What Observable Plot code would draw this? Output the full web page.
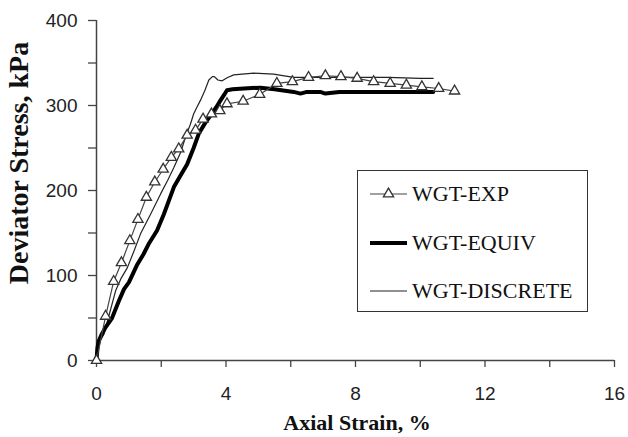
<!DOCTYPE html>
<html>
<head>
<meta charset="utf-8">
<script src="https://cdn.jsdelivr.net/npm/d3@7"></script>
<script src="https://cdn.jsdelivr.net/npm/@observablehq/plot@0.6"></script>
<style>
  html, body { margin: 0; padding: 0; background: #fff; }
  #wrap { position: relative; width: 628px; height: 437px; overflow: hidden; }
  #chart svg { display: block; }
  .ytitle { position: absolute; left: 19px; top: 163px; transform: translate(-50%, -50%) rotate(-90deg);
    font: bold 28px "Liberation Serif", "Times New Roman", serif; white-space: nowrap; color: #111; }
  .xtitle { position: absolute; left: 357px; top: 410px; transform: translateX(-50%);
    font: bold 22px "Liberation Serif", "Times New Roman", serif; white-space: nowrap; color: #111; }
  .legend { position: absolute; left: 357px; top: 170px; width: 229px; height: 140px;
    border: 1.5px solid #333; background: #fff; }
  .legend .row { position: absolute; left: 0; height: 30px; display: flex; align-items: center; }
  .legend .row span { font: 22px "Liberation Serif", "Times New Roman", serif; color: #111; margin-left: 5px; white-space: nowrap; }
</style>
</head>
<body>
<div id="wrap">
  <div id="chart"></div>
  <div class="ytitle">Deviator Stress, kPa</div>
  <div class="xtitle">Axial Strain, %</div>
  <div class="legend" id="legend"></div>
</div>
<script>
// ---- Data ----
const seriesNames = ["WGT-EXP", "WGT-EQUIV", "WGT-DISCRETE"];

const expStrain = [0, 0.28, 0.53, 0.77, 1.03, 1.28, 1.54, 1.80, 2.06, 2.31, 2.54, 2.80, 3.06, 3.29, 3.55, 3.81, 4.03, 4.53, 5.04, 5.57, 6.05, 6.55, 7.07, 7.55, 8.05, 8.56, 9.07, 9.57, 10.05, 10.57, 11.06];
const expStress = [0, 52, 93, 115, 141, 166, 192, 210, 225, 239, 249, 265, 271, 284, 290, 294, 302, 305, 313, 326, 328, 333, 335, 334, 332, 328, 326, 324, 322, 320, 317];

const equivStrain = [0, 0.03, 0.07, 0.15, 0.28, 0.48, 0.69, 0.85, 1.0, 1.26, 1.45, 1.61, 1.87, 2.08, 2.39, 2.6, 2.8, 3.0, 3.16, 3.35, 3.52, 3.7, 3.83, 3.95, 4.03, 4.2, 4.55, 5.06, 5.5, 6.09, 6.3, 6.5, 6.91, 7.07, 7.5, 8, 9, 10, 10.4];
const equivStress = [0, 15, 23, 30, 39, 50, 70, 84, 92, 113, 125, 137, 153, 172, 204, 218, 231, 250, 267, 279, 288, 298, 306, 313, 318, 319, 320, 321, 319, 316, 314, 316, 316, 314, 316, 316, 316, 316, 316];

const discStrain = [0, 0.05, 0.12, 0.23, 0.4, 0.59, 0.75, 0.95, 1.15, 1.36, 1.67, 1.98, 2.2, 2.39, 2.6, 2.75, 2.9, 3.0, 3.1, 3.21, 3.35, 3.47, 3.58, 3.64, 3.75, 3.88, 4.05, 4.24, 4.5, 4.86, 5.47, 6.09, 7, 8, 9, 10, 10.4];
const discStress = [0, 15, 24, 31, 55, 82, 96, 109, 128, 149, 172, 196, 212, 227, 245, 263, 278, 290, 298, 306, 318, 330, 334, 334, 330, 329, 333, 336, 337, 338, 337, 333, 333, 333, 333, 332, 332];

const xTicks = [0, 2, 4, 6, 8, 10, 12, 14, 16];
const xLabels = [0, 4, 8, 12, 16];
const yTicks = [0, 50, 100, 150, 200, 250, 300, 350, 400];
const yLabels = [0, 100, 200, 300, 400];

const toRows = (xs, ys) => xs.map((x, i) => ({x, y: ys[i]}));
const exp = toRows(expStrain, expStress);
const equiv = toRows(equivStrain, equivStress);
const disc = toRows(discStrain, discStress);

const axisColor = "#444";
const chart = Plot.plot({
  width: 628,
  height: 437,
  marginLeft: 96,
  marginRight: 14,
  marginTop: 20,
  marginBottom: 77,
  x: {domain: [0, 16]},
  y: {domain: [0, 400]},
  style: {fontFamily: "'Liberation Sans', Arial, sans-serif", background: "#fff", color: "#222"},
  marks: [
    Plot.axisX({ticks: xTicks, tickSize: 7, tickFormat: d => xLabels.includes(d) ? String(d) : "", tickPadding: 19, fontSize: 19, stroke: axisColor, strokeWidth: 1.3, label: null}),
    Plot.axisY({ticks: yTicks, tickSize: 8, tickFormat: d => yLabels.includes(d) ? String(d) : "", tickPadding: 11, fontSize: 19, stroke: axisColor, strokeWidth: 1.3, label: null}),
    Plot.ruleX([0], {stroke: axisColor, strokeWidth: 1.5}),
    Plot.ruleY([0], {stroke: axisColor, strokeWidth: 1.5}),
    Plot.line(disc, {x: "x", y: "y", stroke: "#222", strokeWidth: 1.2}),
    Plot.line(equiv, {x: "x", y: "y", stroke: "#000", strokeWidth: 4}),
    Plot.line(exp, {x: "x", y: "y", stroke: "#444", strokeWidth: 1.2}),
    Plot.dot(exp, {x: "x", y: "y", symbol: "triangle", r: 3.8, fill: "#fff", stroke: "#333", strokeWidth: 1.3})
  ]
});
document.getElementById("chart").appendChild(chart);

// ---- Legend ----
const legendStyles = [
  {stroke: "#444", width: 1.2, marker: true},
  {stroke: "#000", width: 4, marker: false},
  {stroke: "#222", width: 1.2, marker: false}
];
const rowTops = [8, 57, 105];
const legend = document.getElementById("legend");
seriesNames.forEach((name, i) => {
  const row = document.createElement("div");
  row.className = "row";
  row.style.top = rowTops[i] + "px";
  row.style.left = "12px";
  const s = legendStyles[i];
  const svg = d3.create("svg").attr("width", 37).attr("height", 30);
  svg.append("line").attr("x1", 0).attr("x2", 37).attr("y1", 15).attr("y2", 15)
    .attr("stroke", s.stroke).attr("stroke-width", s.width);
  if (s.marker) {
    svg.append("path").attr("d", d3.symbol(d3.symbolTriangle, 3.8 * 3.8 * Math.PI)())
      .attr("transform", "translate(18.5,15)").attr("fill", "#fff").attr("stroke", "#333").attr("stroke-width", 1.3);
  }
  row.appendChild(svg.node());
  const t = document.createElement("span");
  t.textContent = name;
  row.appendChild(t);
  legend.appendChild(row);
});
</script>
</body>
</html>
